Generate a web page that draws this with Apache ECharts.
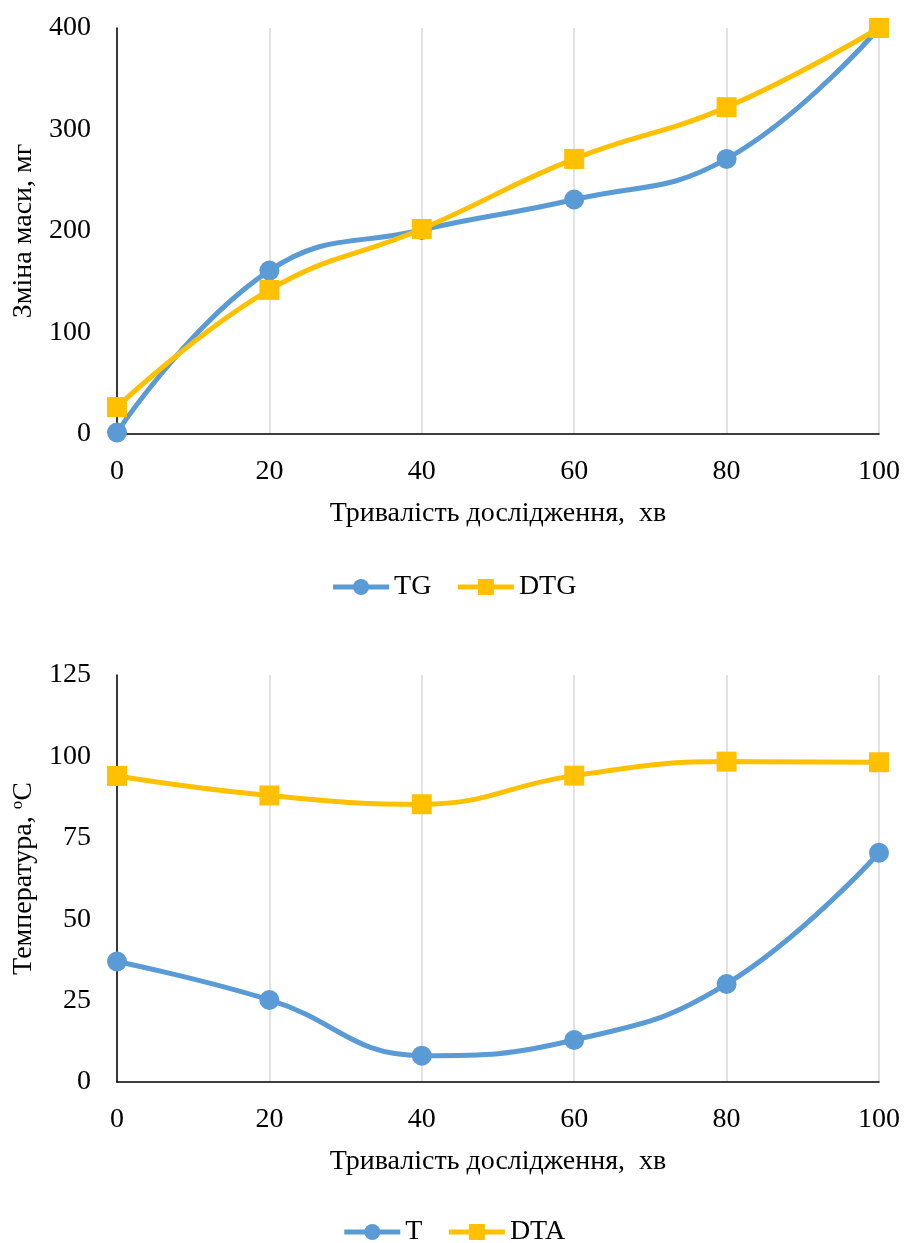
<!DOCTYPE html>
<html>
<head>
<meta charset="utf-8">
<script src="https://cdn.jsdelivr.net/npm/echarts@6/dist/echarts.min.js"></script>
<style>html,body{margin:0;padding:0;background:#fff;}#c{width:907px;height:1243px;}</style>
</head>
<body>
<div id="c"></div>
<script>
var xValues = [0, 20, 40, 60, 80, 100];
var tgValues = [1.5, 161, 201, 231, 271, 400];
var dtgValues = [26.5, 142, 202, 271, 322, 400];
var tValues = [37, 25.2, 8.1, 12.9, 30.1, 70.4];
var dtaValues = [94, 88, 85.3, 94.1, 98.4, 98.2];

function pairs(xs, ys) { return xs.map(function (x, i) { return [x, ys[i]]; }); }

var FONT = 'Liberation Serif';
var txt = { fontFamily: FONT, fontSize: 28, color: '#000' };
var blue = '#5b9bd5', yellow = '#ffc000';

function xAxis(idx) {
  return {
    type: 'value', gridIndex: idx, min: 0, max: 100, interval: 20,
    name: 'Тривалість дослідження,  хв', nameLocation: 'middle', nameGap: 66,
    nameTextStyle: txt,
    axisLine: { show: true, lineStyle: { color: '#000', width: 1.5 } },
    axisTick: { show: false },
    axisLabel: Object.assign({ margin: 24 }, txt),
    splitLine: { show: true, lineStyle: { color: '#d9d9d9', width: 1.5 } }
  };
}
function yAxis(idx, max, interval, name, rich) {
  var nts = Object.assign({}, txt);
  if (rich) nts.rich = rich;
  return {
    type: 'value', gridIndex: idx, min: 0, max: max, interval: interval,
    name: name, nameLocation: 'middle', nameGap: 78, nameTextStyle: nts,
    axisLine: { show: true, lineStyle: { color: '#000', width: 1.5 } },
    axisTick: { show: false },
    axisLabel: Object.assign({ margin: 26 }, txt),
    splitLine: { show: false }
  };
}
function line(name, data, color, symbol, idx) {
  return {
    name: name, type: 'line', xAxisIndex: idx, yAxisIndex: idx,
    data: data, smooth: 0.45, symbol: symbol, symbolSize: 20,
    lineStyle: { color: color, width: 5 }, itemStyle: { color: color },
    z: name === 'TG' || name === 'T' ? 2 : 3
  };
}
function legend(names, top) {
  return {
    data: names, top: top, left: 'center', itemWidth: 56, itemHeight: 20, itemGap: 24,
    textStyle: txt, lineStyle: { width: 5 }
  };
}

var chart = echarts.init(document.getElementById('c'), null, { renderer: 'canvas' });
chart.setOption({
  animation: false,
  backgroundColor: '#fff',
  grid: [
    { left: 117, right: 28, top: 28, height: 406 },
    { left: 117, right: 28, top: 675, height: 407 }
  ],
  xAxis: [xAxis(0), xAxis(1)],
  yAxis: [
    yAxis(0, 400, 100, 'Зміна маси, мг'),
    yAxis(1, 125, 25, 'Температура, {s|o}С', { s: { fontFamily: FONT, fontSize: 17, color: '#000', padding: [0, 0, 13, 0] } })
  ],
  legend: [legend(['TG', 'DTG'], 568), legend(['T', 'DTA'], 1213)],
  series: [
    line('TG', pairs(xValues, tgValues), blue, 'circle', 0),
    line('DTG', pairs(xValues, dtgValues), yellow, 'rect', 0),
    line('T', pairs(xValues, tValues), blue, 'circle', 1),
    line('DTA', pairs(xValues, dtaValues), yellow, 'rect', 1)
  ]
});
</script>
</body>
</html>
